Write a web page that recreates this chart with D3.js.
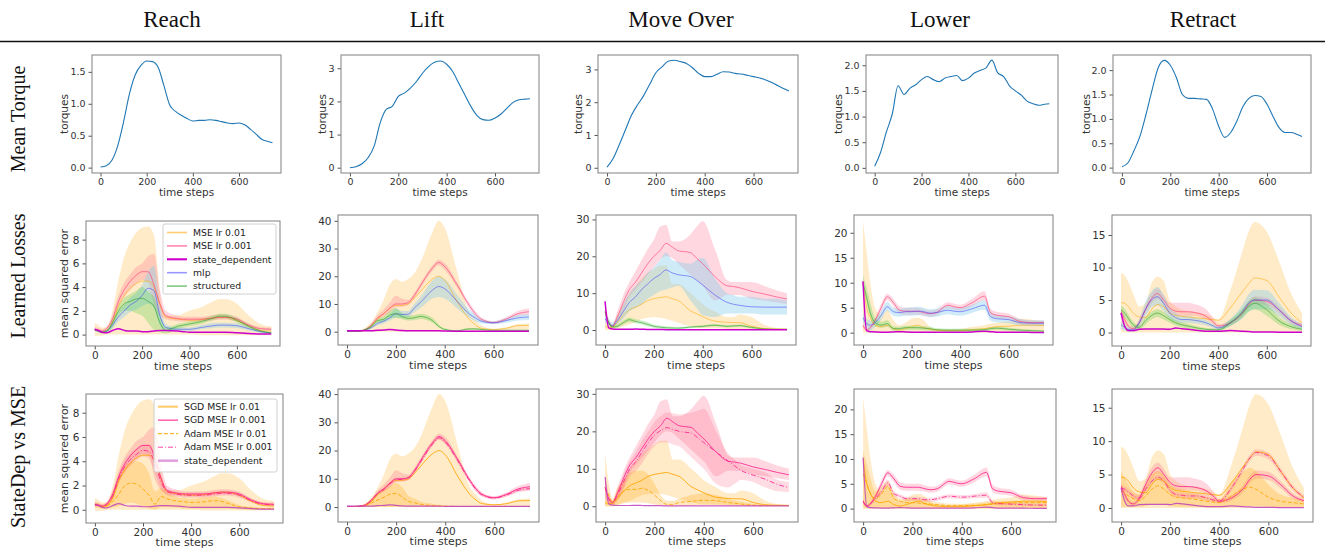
<!DOCTYPE html>
<html>
<head>
<meta charset="utf-8">
<script src="https://cdn.jsdelivr.net/npm/d3@7"></script>
<style>
body { margin: 0; background: #fff; }
svg { display: block; }
</style>
</head>
<body>
<svg id="chart" width="1325" height="548"></svg>
<script>
// column / row headings
var task_titles = ["Reach", "Lift", "Move Over", "Lower", "Retract"];
var task_keys = ["reach", "lift", "move", "lower", "retract"];
var row_titles = ["Mean Torque", "Learned Losses", "StateDep vs MSE"];
var x_ticks = [0, 200, 400, 600];

// time steps for the torque row and the loss rows
var torque_steps = [0,25,50,75,100,125,150,175,200,225,250,275,300,325,350,375,400,425,450,475,500,525,550,575,600,625,650,675,700,725,745];
var loss_steps = [0,15,30,50,75,100,125,150,175,200,225,250,275,300,350,375,400,450,500,525,550,600,650,700,745];

// mean torque
var torque_reach = [0.01,0.03,0.12,0.35,0.72,1.15,1.45,1.6,1.67,1.66,1.57,1.28,0.98,0.88,0.82,0.77,0.73,0.74,0.74,0.75,0.74,0.72,0.7,0.69,0.7,0.67,0.6,0.52,0.44,0.41,0.39];
var torque_lift = [0.0,0.03,0.12,0.3,0.65,1.35,1.76,1.85,2.15,2.25,2.4,2.6,2.85,3.05,3.18,3.22,3.12,2.9,2.55,2.2,1.85,1.58,1.45,1.43,1.5,1.62,1.8,1.97,2.05,2.07,2.08];
var torque_move = [0.02,0.28,0.7,1.15,1.6,1.92,2.2,2.55,2.9,3.08,3.25,3.28,3.24,3.18,3.05,2.88,2.78,2.78,2.85,2.93,2.92,2.88,2.86,2.82,2.78,2.74,2.68,2.6,2.5,2.41,2.34];
var torque_lower = [0.03,0.3,0.7,1.05,1.6,1.43,1.55,1.62,1.72,1.78,1.72,1.68,1.75,1.78,1.8,1.7,1.75,1.85,1.9,1.95,2.1,1.85,1.78,1.6,1.5,1.42,1.3,1.25,1.22,1.24,1.25];
var torque_retract = [0.02,0.1,0.35,0.65,1.1,1.6,2.05,2.2,2.1,1.85,1.5,1.42,1.42,1.41,1.4,1.2,0.85,0.62,0.72,0.95,1.25,1.42,1.48,1.46,1.3,1.05,0.82,0.72,0.72,0.68,0.64];

// ---- Reach losses
var reach_mse01 = [0.4,0.35,0.25,0.35,1.0,2.4,3.3,3.9,4.3,4.5,4.5,4.0,2.5,1.5,1.3,1.25,1.2,1.25,1.4,1.45,1.45,1.2,0.7,0.35,0.3];
var reach_mse01_lo = [-0.1,-0.1,-0.1,0,0,0,0,0,0,0,0,0,0,0,0,0,0,-0.05,-0.05,-0.05,-0.05,-0.05,-0.05,-0.05,0];
var reach_mse01_hi = [1.0,0.8,0.6,0.6,2.0,4.6,6.6,7.8,8.6,9.0,9.1,8.4,3.5,1.6,1.6,1.8,2.0,2.3,2.8,3.0,3.0,2.6,1.6,0.9,0.7];
var reach_mse001 = [0.45,0.4,0.3,0.5,1.3,2.8,3.8,4.5,5.0,5.3,5.3,4.2,2.6,1.6,1.35,1.3,1.3,1.3,1.4,1.45,1.45,1.3,0.8,0.5,0.45];
var reach_mse001_lo = [0.3,0.25,0.2,0.35,1.0,2.4,3.2,3.8,4.3,4.6,4.4,2.5,1.6,1.3,1.15,1.1,1.1,1.1,1.2,1.25,1.25,1.1,0.65,0.4,0.35];
var reach_mse001_hi = [0.65,0.55,0.45,0.7,1.7,3.3,4.4,5.1,5.7,6.0,6.6,6.8,3.8,2.0,1.6,1.5,1.5,1.5,1.65,1.7,1.7,1.5,0.95,0.65,0.6];
var reach_mlp = [0.4,0.3,0.2,0.3,0.8,1.5,2.0,2.5,2.8,3.3,3.9,3.7,1.6,0.6,0.45,0.45,0.45,0.6,0.75,0.8,0.8,0.75,0.5,0.25,0.15];
var reach_mlp_lo = [0.3,0.2,0.1,0.2,0.5,1.1,1.5,1.9,2.1,2.4,2.6,2.2,0.8,0.3,0.3,0.3,0.3,0.45,0.55,0.6,0.6,0.55,0.35,0.15,0.1];
var reach_mlp_hi = [0.5,0.4,0.3,0.4,1.1,1.9,2.5,3.1,3.5,4.2,5.3,5.8,2.6,0.9,0.6,0.6,0.6,0.8,1.0,1.0,1.0,0.95,0.7,0.35,0.2];
var reach_struct = [0.4,0.3,0.2,0.3,1.0,2.0,2.6,2.8,3.0,3.05,2.8,2.4,1.0,0.35,0.7,0.8,0.9,1.1,1.4,1.55,1.55,1.2,0.7,0.3,0.15];
var reach_struct_lo = [0.3,0.2,0.1,0.2,0.6,1.6,2.0,2.0,1.8,1.6,1.0,0.4,0.2,0.1,0.5,0.6,0.7,0.9,1.2,1.35,1.35,1.0,0.55,0.2,0.1];
var reach_struct_hi = [0.5,0.4,0.3,0.4,1.3,2.4,3.1,3.4,3.7,4.0,3.6,3.2,1.6,0.6,0.9,1.0,1.1,1.3,1.6,1.75,1.75,1.4,0.85,0.4,0.2];
var reach_sd = [0.45,0.35,0.2,0.15,0.35,0.5,0.35,0.3,0.3,0.25,0.25,0.3,0.35,0.35,0.3,0.25,0.2,0.2,0.2,0.2,0.2,0.15,0.1,0.05,0.05];
var reach_adam01 = [0.4,0.35,0.25,0.3,0.7,1.3,2.0,2.2,2.1,1.7,1.2,0.45,1.1,0.9,0.7,0.65,0.6,0.65,0.75,0.7,0.55,0.25,0.15,0.1,0.1];
var reach_adam01_lo = [0.2,0.15,0.1,0.1,0.2,0.3,0.5,0.6,0.5,0.3,0.1,0,0.2,0.2,0.15,0.1,0.1,0.1,0.1,0.1,0.1,0.05,0,0,0];
var reach_adam01_hi = [0.6,0.55,0.4,0.5,1.5,2.8,3.6,3.9,4.0,3.8,3.0,1.5,1.8,1.4,1.0,0.95,0.9,1.0,1.1,1.0,0.8,0.4,0.25,0.15,0.15];
var reach_adam001 = [0.4,0.35,0.3,0.45,1.2,2.6,3.6,4.2,4.6,4.9,4.8,3.8,2.3,1.5,1.25,1.2,1.2,1.2,1.3,1.35,1.35,1.2,0.75,0.45,0.4];
var reach_adam001_lo = [0.3,0.25,0.2,0.3,0.9,2.2,3.1,3.7,4.1,4.4,4.2,3.0,1.8,1.2,1.05,1.0,1.0,1.0,1.1,1.15,1.15,1.0,0.6,0.35,0.3];
var reach_adam001_hi = [0.55,0.5,0.4,0.6,1.5,3.0,4.1,4.7,5.1,5.4,5.4,4.6,2.8,1.8,1.45,1.4,1.4,1.4,1.5,1.55,1.55,1.4,0.9,0.6,0.5];

// ---- Lift losses
var lift_mse01 = [0.2,0.2,0.2,0.2,0.6,2.0,4.5,6.5,8.5,9.5,9.5,10.0,12.0,14.5,19.0,20.0,18.5,11.0,4.5,2.5,1.2,0.8,1.2,2.2,2.3];
var lift_mse01_lo = [0,0,0,0,0,0,0,0,0,0,0,0,0,0,0,0,0,0,0,0,0,0,0,0,0];
var lift_mse01_hi = [0.4,0.4,0.4,0.5,1.5,3.5,7.0,11.5,17.0,19.0,18.0,19.0,21.0,25.0,36.0,40.0,37.5,22.0,7.0,4.5,2.2,1.0,1.6,2.8,3.0];
var lift_mse001 = [0.2,0.2,0.2,0.3,0.8,2.5,5.0,6.5,8.5,10.0,10.0,10.5,13.0,16.5,23.0,25.0,23.5,17.0,9.5,6.5,4.5,3.3,4.5,6.5,7.2];
var lift_mse001_lo = [0.1,0.1,0.1,0.2,0.6,2.0,4.2,5.5,7.0,8.8,9.0,9.5,12.0,15.5,22.0,24.0,22.3,16.0,8.5,5.5,3.8,2.8,3.8,5.5,6.0];
var lift_mse001_hi = [0.3,0.3,0.3,0.4,1.0,3.0,6.0,8.0,10.5,13.0,12.0,11.5,14.0,17.5,24.0,26.0,24.8,18.0,10.5,7.5,5.2,3.8,5.2,7.5,8.5];
var lift_mlp = [0.2,0.2,0.2,0.2,0.6,1.5,3.0,3.8,5.0,6.5,6.2,6.3,8.5,10.5,15.0,16.3,15.5,11.0,6.5,5.0,3.8,3.2,4.0,5.0,5.3];
var lift_mlp_lo = [0.1,0.1,0.1,0.1,0.4,1.1,2.3,3.0,4.0,5.0,5.0,5.2,7.0,8.5,12.0,12.5,12.0,8.5,5.0,3.8,3.0,2.7,3.2,4.0,4.2];
var lift_mlp_hi = [0.3,0.3,0.3,0.3,0.8,1.9,3.7,4.6,6.2,8.5,7.5,7.5,10.0,12.5,18.5,20.0,19.0,13.5,8.0,6.2,4.6,3.8,4.8,6.0,6.4];
var lift_struct = [0.2,0.2,0.2,0.2,0.8,2.0,4.0,4.5,6.0,6.5,5.5,4.8,5.0,5.5,4.0,2.0,0.8,0.3,1.0,1.0,0.8,0.5,0.5,0.5,0.5];
var lift_struct_lo = [0.1,0.1,0.1,0.1,0.5,1.5,3.3,3.7,4.8,5.0,4.5,4.0,4.2,4.6,3.2,1.5,0.5,0.1,0.7,0.7,0.5,0.3,0.3,0.3,0.3];
var lift_struct_hi = [0.3,0.3,0.3,0.3,1.1,2.5,4.7,5.5,7.5,8.5,6.8,5.8,6.0,6.5,5.0,2.6,1.2,0.5,1.3,1.3,1.1,0.7,0.7,0.7,0.7];
var lift_sd = [0.3,0.3,0.3,0.3,0.3,0.3,0.5,0.6,0.8,0.6,0.4,0.3,0.3,0.3,0.3,0.3,0.25,0.2,0.2,0.2,0.2,0.2,0.2,0.2,0.2];
var lift_adam01 = [0.2,0.2,0.2,0.2,0.5,1.5,2.5,3.5,4.5,4.8,3.5,2.0,1.5,1.0,0.5,0.4,0.3,0.2,0.2,0.2,0.2,0.2,0.2,0.2,0.2];
var lift_adam01_lo = [0,0,0,0,0,0,0,0,0,0,0,0,0,0,0,0,0,0,0,0,0,0,0,0,0];
var lift_adam01_hi = [0.3,0.3,0.3,0.4,1.0,3.0,4.5,6.0,7.5,8.5,7.0,4.0,3.0,2.0,1.2,0.8,0.5,0.4,0.3,0.3,0.3,0.3,0.3,0.3,0.3];
var lift_adam001 = [0.2,0.2,0.2,0.3,0.8,2.4,4.8,6.2,8.2,9.7,9.8,10.3,12.7,16.0,22.5,24.5,23.0,16.5,9.2,6.3,4.3,3.2,4.3,6.0,6.5];
var lift_adam001_lo = [0.1,0.1,0.1,0.2,0.6,2.0,4.2,5.6,7.5,9.0,9.2,9.7,12.0,15.3,21.8,23.8,22.3,15.8,8.5,5.7,3.7,2.7,3.7,5.3,5.8];
var lift_adam001_hi = [0.3,0.3,0.3,0.4,1.0,2.8,5.4,6.8,8.9,10.4,10.4,10.9,13.4,16.7,23.2,25.2,23.7,17.2,9.9,6.9,4.9,3.7,4.9,6.7,7.2];

// ---- Move Over losses
var move_mse01 = [1.0,0.7,0.8,2.0,4.0,5.5,6.2,7.0,8.0,8.5,8.8,9.0,8.5,8.0,5.2,4.4,3.6,2.4,2.1,2.0,2.0,1.0,0.4,0.25,0.2];
var move_mse01_lo = [0,0,0,0.5,1.0,1.5,2.2,3.0,3.3,3.5,3.3,3.0,2.5,2.0,1.0,0.7,0.5,0.5,0.3,0.2,0.2,0.1,0,0,0];
var move_mse01_hi = [2.0,1.5,1.5,4.0,7.0,10.0,12.0,14.0,15.5,16.5,17.5,17.5,12.5,12.5,10.0,8.5,7.0,5.0,3.5,3.5,4.2,3.5,1.5,0.6,0.4];
var move_mse001 = [5.0,2.0,1.0,3.5,7.5,11.0,13.0,15.5,18.0,20.0,21.5,23.5,22.5,21.5,21.0,19.5,18.0,14.5,12.0,11.8,11.5,10.5,9.8,9.0,8.4];
var move_mse001_lo = [2.0,1.0,0.5,2.0,5.0,9.0,11.0,13.0,15.0,17.0,19.0,20.0,19.5,18.0,15.0,13.5,12.0,8.0,9.5,9.5,9.5,8.5,8.0,7.5,7.0];
var move_mse001_hi = [7.5,3.0,1.5,5.0,9.5,13.0,16.0,19.0,22.0,24.5,28.0,28.5,24.0,24.0,26.0,28.0,29.5,22.0,13.5,13.0,13.0,13.0,12.0,10.8,10.0];
var move_mlp = [3.0,2.0,1.2,2.5,5.0,7.5,9.0,11.0,12.5,14.0,15.0,16.3,15.5,15.0,14.5,13.5,12.2,9.5,7.5,7.0,6.7,6.3,6.2,6.2,6.2];
var move_mlp_lo = [2.0,1.3,0.8,1.5,3.0,5.0,6.0,7.0,8.5,9.5,10.5,11.0,11.5,12.0,8.0,6.0,4.0,3.5,4.5,4.5,4.5,4.5,4.2,4.2,4.2];
var move_mlp_hi = [4.0,3.0,2.0,3.5,7.0,10.0,12.0,13.5,15.5,17.0,19.0,21.0,19.0,18.5,18.0,19.0,19.5,14.0,10.0,9.5,9.0,9.0,8.5,8.5,8.0];
var move_struct = [5.0,2.0,0.8,1.0,2.0,2.8,2.3,2.0,1.5,1.0,0.8,0.6,0.55,0.5,0.8,0.9,1.0,1.3,1.0,1.1,1.2,0.7,0.3,0.2,0.2];
var move_struct_lo = [4.0,1.5,0.5,0.6,1.5,2.2,1.8,1.5,1.0,0.6,0.4,0.3,0.25,0.2,0.5,0.6,0.7,1.0,0.7,0.8,0.9,0.4,0.15,0.1,0.1];
var move_struct_hi = [6.0,2.6,1.2,1.5,2.6,3.4,2.9,2.6,2.1,1.5,1.2,1.0,0.9,0.8,1.1,1.2,1.3,1.6,1.3,1.4,1.5,1.0,0.5,0.3,0.3];
var move_sd = [7.8,0.6,0.3,0.2,0.2,0.2,0.25,0.2,0.15,0.15,0.15,0.1,0.1,0.1,0.1,0.1,0.1,0.1,0.1,0.1,0.1,0.1,0.1,0.1,0.1];
var move_adam01 = [5.0,3.0,1.0,2.5,4.0,4.5,4.5,4.8,4.2,3.0,1.5,0.5,0.5,1.0,1.3,1.5,1.6,1.5,1.0,0.8,0.6,0.3,0.2,0.2,0.2];
var move_adam01_lo = [0,0,0,0.3,0.8,1.0,1.0,1.0,0.8,0.5,0.2,0,0,0.1,0.2,0.3,0.3,0.3,0.2,0.1,0.1,0,0,0,0];
var move_adam01_hi = [14.0,6.0,2.0,5.0,7.0,9.0,9.5,9.5,8.5,6.0,3.0,1.5,1.5,2.0,3.0,3.3,3.5,3.0,2.0,1.5,1.2,0.6,0.4,0.4,0.4];
var move_adam001 = [5.0,2.0,1.0,3.0,6.5,10.0,12.0,14.5,17.0,19.0,20.2,21.0,20.5,20.0,19.5,18.3,17.0,14.5,12.0,10.8,9.6,8.3,7.2,5.8,5.0];
var move_adam001_lo = [2.0,1.0,0.5,1.5,4.5,8.0,9.5,11.5,14.0,16.0,17.0,17.0,16.5,16.0,13.0,11.5,10.0,6.0,5.0,6.0,7.0,6.5,5.0,4.0,3.8];
var move_adam001_hi = [8.0,3.0,1.5,4.5,8.5,12.0,14.5,17.5,20.0,22.5,24.0,25.0,24.8,24.5,25.0,25.5,26.0,20.0,14.0,12.5,11.0,10.0,9.0,7.0,6.5];

// ---- Lower losses
var lower_mse01 = [10.0,5.0,3.0,1.5,1.2,1.5,0.8,0.5,0.8,1.2,1.5,1.0,0.7,0.5,0.4,0.4,0.4,0.6,0.8,1.0,1.2,1.3,1.5,1.5,1.4];
var lower_mse01_lo = [0,0,0,0,0,0,0,0,0,0,0,0,0,0,0,0,0,0,0,0,0,0,0,0,0];
var lower_mse01_hi = [22.5,16.0,10.0,5.0,3.5,4.5,2.5,1.5,2.0,2.8,3.0,2.5,1.2,0.8,0.7,0.75,0.8,1.2,1.5,1.8,2.0,2.3,2.8,2.6,2.3];
var lower_mse001 = [1.5,0.5,1.0,2.5,5.0,7.2,6.0,4.5,4.3,4.3,4.3,4.0,3.8,4.0,5.5,5.2,5.0,6.0,7.3,4.0,3.5,3.2,2.2,2.0,2.0];
var lower_mse001_lo = [1.0,0.3,0.6,2.0,4.2,6.5,5.3,3.8,3.6,3.6,3.6,3.4,3.2,3.4,4.9,4.6,4.4,5.3,6.5,3.3,2.9,2.6,1.7,1.6,1.6];
var lower_mse001_hi = [2.0,0.8,1.4,3.0,5.8,7.8,6.8,5.3,5.0,5.0,5.0,4.7,4.4,4.6,6.1,5.8,5.6,6.8,8.3,4.8,4.2,3.8,2.7,2.4,2.4];
var lower_mlp = [3.0,1.8,1.5,2.0,3.5,5.2,4.2,4.0,4.2,4.2,4.3,4.2,3.9,4.0,4.5,4.3,4.2,4.8,5.5,3.2,2.8,2.6,2.0,1.9,1.9];
var lower_mlp_lo = [2.0,0.8,0.5,1.2,2.6,4.4,3.4,3.2,3.4,3.4,3.5,3.4,3.1,3.2,3.7,3.5,3.4,4.0,4.6,2.4,2.1,1.9,1.4,1.3,1.3];
var lower_mlp_hi = [4.2,2.8,2.4,2.8,4.4,6.2,5.0,4.8,5.0,5.1,5.2,5.0,4.7,4.8,5.3,5.1,5.0,5.6,6.5,4.1,3.5,3.3,2.7,2.5,2.5];
var lower_struct = [10.0,7.0,4.0,2.0,1.5,1.8,0.8,0.8,1.0,1.0,1.0,0.9,0.8,0.6,0.5,0.5,0.5,0.5,0.6,0.8,0.9,0.7,0.5,0.4,0.3];
var lower_struct_lo = [9.0,6.0,3.0,1.3,1.0,1.2,0.4,0.4,0.6,0.6,0.6,0.5,0.4,0.3,0.2,0.2,0.2,0.2,0.3,0.5,0.6,0.4,0.25,0.2,0.15];
var lower_struct_hi = [11.5,9.0,6.0,3.0,2.2,2.5,1.3,1.2,1.4,1.4,1.4,1.3,1.2,0.9,0.8,0.8,0.8,0.8,0.9,1.1,1.2,1.0,0.75,0.6,0.5];
var lower_sd = [10.3,0.4,0.2,0.15,0.1,0.1,0.15,0.2,0.15,0.1,0.1,0.1,0.1,0.1,0.1,0.1,0.1,0.15,0.3,0.2,0.1,0.1,0.1,0.05,0.05];
var lower_adam01 = [7.0,5.0,3.0,2.0,3.0,4.5,2.0,1.5,1.2,1.2,1.1,1.0,0.9,0.8,0.6,0.6,0.6,0.6,0.8,0.9,1.0,1.1,1.2,1.2,1.2];
var lower_adam01_lo = [0,0,0,0,0,0,0,0,0,0,0,0,0,0,0,0,0,0,0,0,0,0,0,0,0];
var lower_adam01_hi = [11.5,9.0,6.0,3.5,4.5,5.5,3.0,2.0,2.0,2.0,1.9,1.8,1.5,1.3,1.0,1.0,1.0,1.0,1.3,1.4,1.5,1.6,1.6,1.6,1.6];
var lower_adam001 = [1.5,0.5,1.0,2.0,3.5,5.2,3.0,2.5,2.0,2.0,2.0,1.8,1.8,2.0,2.5,2.4,2.3,2.5,2.7,1.2,1.0,0.9,0.8,0.7,0.7];
var lower_adam001_lo = [1.1,0.3,0.7,1.6,3.0,4.6,2.5,2.1,1.6,1.6,1.6,1.4,1.4,1.6,2.1,2.0,1.9,2.1,2.2,0.9,0.7,0.6,0.5,0.5,0.5];
var lower_adam001_hi = [1.9,0.8,1.3,2.4,4.0,5.8,3.5,2.9,2.4,2.4,2.4,2.2,2.2,2.4,2.9,2.8,2.7,2.9,3.3,1.6,1.3,1.2,1.1,1.0,1.0];

// ---- Retract losses
var retract_mse01 = [4.6,4.5,4.0,3.0,2.4,2.3,3.5,4.3,4.0,3.0,2.6,2.5,2.4,2.3,2.1,2.0,1.9,3.8,6.3,7.5,8.4,8.0,5.5,3.0,1.5];
var retract_mse01_lo = [0,0,0,0,0,0,0,0,0,0,0,0,0,0,0,0,0,0,0,0,0,0,0,0,0];
var retract_mse01_hi = [9.2,8.8,7.8,6.0,4.0,4.5,7.5,8.6,8.0,5.0,4.0,3.5,3.3,3.2,2.8,2.4,2.0,6.5,12.5,15.5,17.0,15.5,11.0,6.0,3.0];
var retract_mse001 = [3.2,2.0,1.0,0.6,1.5,3.5,5.2,6.0,5.0,3.8,3.3,3.2,3.2,3.1,2.5,1.8,1.0,1.5,3.0,4.3,5.0,4.8,3.5,1.8,1.1];
var retract_mse001_lo = [2.6,1.5,0.6,0.3,1.0,2.8,4.4,5.2,4.3,3.1,2.7,2.6,2.6,2.6,2.0,1.4,0.7,1.1,2.5,3.7,4.4,4.2,3.0,1.4,0.8];
var retract_mse001_hi = [3.8,2.5,1.4,0.9,2.0,4.2,6.0,6.8,5.8,4.6,4.6,4.6,4.6,4.4,3.6,2.5,1.3,1.9,3.5,4.9,5.6,5.4,4.0,2.2,1.4];
var retract_mlp = [1.2,0.8,0.5,0.4,1.5,3.5,5.0,5.5,4.5,3.0,2.3,2.0,2.0,1.9,1.5,1.1,0.7,1.5,3.2,4.5,5.0,5.0,3.5,1.8,0.9];
var retract_mlp_lo = [0.6,0.3,0.1,0.1,0.9,2.5,3.8,4.2,3.3,2.2,1.7,1.5,1.5,1.4,1.1,0.8,0.4,1.0,2.2,3.2,3.6,3.6,2.5,1.2,0.5];
var retract_mlp_hi = [1.8,1.3,0.9,0.7,2.1,4.6,6.3,7.0,5.8,3.9,3.0,2.6,2.6,2.4,1.9,1.4,1.0,2.1,4.3,5.9,6.6,6.5,4.6,2.4,1.3];
var retract_struct = [3.5,3.0,2.2,1.2,0.8,1.8,2.6,3.0,2.6,2.0,1.5,1.2,1.0,0.8,0.5,0.45,0.4,1.5,3.0,4.0,4.5,3.5,1.8,0.9,0.5];
var retract_struct_lo = [2.8,2.3,1.6,0.7,0.4,1.2,2.0,2.4,2.0,1.5,1.1,0.8,0.6,0.5,0.3,0.25,0.2,1.0,2.3,3.2,3.6,2.6,1.2,0.5,0.25];
var retract_struct_hi = [4.2,3.7,2.8,1.7,1.2,2.4,3.2,3.6,3.2,2.5,1.9,1.6,1.4,1.1,0.7,0.65,0.6,2.0,3.7,4.8,5.4,4.4,2.4,1.3,0.75];
var retract_sd = [3.0,1.0,0.3,0.3,0.5,0.55,0.55,0.55,0.55,0.5,0.7,0.6,0.5,0.4,0.2,0.2,0.2,0.3,0.2,0.15,0.1,0.1,0.05,0.05,0.05];
var retract_adam01 = [2.5,2.2,1.8,1.4,1.1,1.8,2.8,3.3,2.8,2.0,1.6,1.5,1.4,1.3,1.0,0.9,0.8,1.8,2.9,3.1,2.8,1.6,1.0,0.8,0.6];
var retract_adam01_lo = [0.2,0.2,0.2,0.2,0.2,0.3,0.5,0.6,0.5,0.3,0.2,0.2,0.2,0.2,0.1,0.1,0.1,0.2,0.3,0.3,0.3,0.2,0.1,0.1,0.1];
var retract_adam01_hi = [5.5,4.5,3.5,2.5,2.0,3.5,5.0,5.5,5.0,3.5,3.0,2.8,2.5,2.2,1.6,1.4,1.3,3.8,5.5,6.0,5.5,3.5,2.0,1.5,1.2];
var retract_adam001 = [3.0,2.8,2.4,1.8,1.5,2.8,4.0,4.6,4.0,2.6,2.0,1.9,1.8,1.8,1.5,1.2,1.0,3.0,6.0,7.5,8.3,7.8,5.5,3.0,1.6];
var retract_adam001_lo = [2.6,2.4,2.0,1.4,1.1,2.4,3.6,4.2,3.6,2.2,1.6,1.5,1.4,1.4,1.1,0.9,0.7,2.6,5.5,7.0,7.8,7.3,5.0,2.6,1.3];
var retract_adam001_hi = [3.4,3.2,2.8,2.2,1.9,3.2,4.4,5.0,4.4,3.0,2.4,2.3,2.2,2.2,1.9,1.5,1.3,3.4,6.5,8.0,8.8,8.3,6.0,3.4,1.9];

// legend labels
var learned_labels = ["MSE lr 0.01", "MSE lr 0.001", "state_dependent", "mlp", "structured"];
var compare_labels = ["SGD MSE lr 0.01", "SGD MSE lr 0.001", "Adam MSE lr 0.01", "Adam MSE lr 0.001", "state_dependent"];

// ---------------- layout (pixel frames of each panel) ----------------
var x_domain = [-37, 782];
var torque_frames = [
	{x0: 92, x1: 281, y0: 55, y1: 173, yDomain: [-0.084, 1.764], yTicks: [0, 0.5, 1, 1.5], fmt: ".1f", ylabOff: 24},
	{x0: 341, x1: 539, y0: 55, y1: 173, yDomain: [-0.16, 3.40], yTicks: [0, 1, 2, 3], fmt: "d", ylabOff: 15},
	{x0: 598, x1: 798, y0: 55, y1: 173, yDomain: [-0.16, 3.44], yTicks: [0, 1, 2, 3], fmt: "d", ylabOff: 16},
	{x0: 866, x1: 1058, y0: 55, y1: 173, yDomain: [-0.1, 2.2], yTicks: [0, 0.5, 1, 1.5, 2], fmt: ".1f", ylabOff: 24},
	{x0: 1113, x1: 1311, y0: 55, y1: 173, yDomain: [-0.11, 2.31], yTicks: [0, 0.5, 1, 1.5, 2], fmt: ".1f", ylabOff: 23}
];
var learned_frames = [
	{x0: 86, x1: 280, y0: 221, y1: 346, yDomain: [-0.96, 9.57], yTicks: [0, 2, 4, 6, 8]},
	{x0: 338, x1: 538, y0: 215, y1: 345, yDomain: [-4.8, 42.1], yTicks: [0, 10, 20, 30, 40]},
	{x0: 596, x1: 796, y0: 215, y1: 345, yDomain: [-4.07, 31.2], yTicks: [0, 10, 20, 30]},
	{x0: 854, x1: 1053, y0: 215, y1: 345, yDomain: [-2.47, 23.56], yTicks: [0, 5, 10, 15, 20]},
	{x0: 1112, x1: 1311, y0: 215, y1: 346, yDomain: [-2.07, 18.08], yTicks: [0, 5, 10, 15]}
];
var compare_frames = [
	{x0: 86, x1: 283, y0: 394, y1: 523, yDomain: [-1.09, 9.54], yTicks: [0, 2, 4, 6, 8]},
	{x0: 338, x1: 539, y0: 389, y1: 522, yDomain: [-5.3, 41.8], yTicks: [0, 10, 20, 30, 40]},
	{x0: 596, x1: 798, y0: 389, y1: 522, yDomain: [-4.2, 31.3], yTicks: [0, 10, 20, 30]},
	{x0: 854, x1: 1056, y0: 389, y1: 522, yDomain: [-2.7, 24.1], yTicks: [0, 5, 10, 15, 20]},
	{x0: 1112, x1: 1313, y0: 389, y1: 522, yDomain: [-2.1, 17.8], yTicks: [0, 5, 10, 15]}
];
var title_x = [172, 427, 681, 940, 1203];
var row_title_y = [119, 276, 457];

// styles
var c_orange = "#ffa500", c_pink = "#ff3377", c_deeppink = "#ff1a8c";
var band_orange = {fill: c_orange, op: 0.22};
var band_pink = {fill: "#ff6f91", op: 0.28};
var band_blue = {fill: "#87ceeb", op: 0.4};
var band_green = {fill: "#32cd32", op: 0.25};
var tick_font = "DejaVu Sans, sans-serif";

function get(task, name) {
	var arr = window[task + "_" + name];
	if (!arr || arr.length != loss_steps.length) throw new Error("bad data " + task + "_" + name);
	return arr;
}

var svg = d3.select("#chart");
var clip_count = 0;

// ---- headings
svg.selectAll(".coltitle").data(task_titles).enter()
	.append("text")
	.attr("class", "coltitle")
	.attr("x", function(d, i) { return title_x[i]; })
	.attr("y", 27)
	.attr("text-anchor", "middle")
	.style("font-family", "Liberation Serif, serif")
	.style("font-size", "23px")
	.attr("fill", "#111")
	.text(function(d) { return d; });

svg.append("line")
	.attr("x1", 0).attr("x2", 1325)
	.attr("y1", 41.5).attr("y2", 41.5)
	.attr("stroke", "#111")
	.attr("stroke-width", 1.6);

svg.selectAll(".rowtitle").data(row_titles).enter()
	.append("text")
	.attr("class", "rowtitle")
	.attr("transform", function(d, i) { return "translate(25," + row_title_y[i] + ") rotate(-90)"; })
	.attr("text-anchor", "middle")
	.style("font-family", "Liberation Serif, serif")
	.style("font-size", "20px")
	.attr("fill", "#111")
	.text(function(d) { return d; });

// ---- one panel
function drawPanel(f, steps, bands, lines, opts) {
	var x = d3.scaleLinear().domain(x_domain).range([f.x0, f.x1]);
	var y = d3.scaleLinear().domain(f.yDomain).range([f.y1, f.y0]);
	var clip_id = "clip" + (clip_count++);
	svg.append("clipPath").attr("id", clip_id)
		.append("rect")
		.attr("x", f.x0).attr("y", f.y0)
		.attr("width", f.x1 - f.x0).attr("height", f.y1 - f.y0);

	var g = svg.append("g");
	var plot = g.append("g").attr("clip-path", "url(#" + clip_id + ")");
	var idx = d3.range(steps.length);

	bands.forEach(function(b) {
		var area = d3.area()
			.x(function(i) { return x(steps[i]); })
			.y0(function(i) { return y(b.lo[i]); })
			.y1(function(i) { return y(b.hi[i]); })
			.curve(d3.curveMonotoneX);
		plot.append("path").datum(idx)
			.attr("d", area)
			.attr("fill", b.style.fill)
			.attr("fill-opacity", b.style.op);
	});

	lines.forEach(function(l) {
		var line = d3.line()
			.x(function(i) { return x(steps[i]); })
			.y(function(i) { return y(l.values[i]); })
			.curve(d3.curveMonotoneX);
		plot.append("path").datum(idx)
			.attr("d", line)
			.attr("fill", "none")
			.attr("stroke", l.color)
			.attr("stroke-opacity", l.op)
			.attr("stroke-width", l.width)
			.attr("stroke-dasharray", l.dash || null);
	});

	// axes
	var xa = g.append("g").attr("transform", "translate(0," + f.y1 + ")")
		.call(d3.axisBottom(x).tickValues(x_ticks).tickSize(3.5).tickPadding(2));
	var fmt = f.fmt ? d3.format(f.fmt) : d3.format("d");
	var ya = g.append("g").attr("transform", "translate(" + f.x0 + ",0)")
		.call(d3.axisLeft(y).tickValues(f.yTicks).tickFormat(fmt).tickSize(3.5).tickPadding(3));
	[xa, ya].forEach(function(a) {
		a.select(".domain").remove();
		a.selectAll("line").attr("stroke", "#555");
		a.selectAll("text")
			.style("font-family", tick_font)
			.style("font-size", opts.tickSize + "px")
			.attr("fill", "#333");
	});

	g.append("rect")
		.attr("x", f.x0).attr("y", f.y0)
		.attr("width", f.x1 - f.x0).attr("height", f.y1 - f.y0)
		.attr("fill", "none")
		.attr("stroke", "#808080")
		.attr("stroke-width", 1);

	g.append("text")
		.attr("x", (f.x0 + f.x1) / 2)
		.attr("y", f.y1 + opts.xlabOff)
		.attr("text-anchor", "middle")
		.style("font-family", tick_font)
		.style("font-size", opts.labelSize + "px")
		.attr("fill", "#333")
		.text("time steps");

	if (opts.ylabel) {
		g.append("text")
			.attr("transform", "translate(" + (f.x0 - opts.ylabOff) + "," + ((f.y0 + f.y1) / 2) + ") rotate(-90)")
			.attr("text-anchor", "middle")
			.style("font-family", tick_font)
			.style("font-size", opts.labelSize + "px")
			.attr("fill", "#333")
			.text(opts.ylabel);
	}
}

function drawLegend(box, labels, styles) {
	var g = svg.append("g");
	g.append("rect")
		.attr("x", box.x).attr("y", box.y)
		.attr("width", box.w).attr("height", box.h)
		.attr("rx", 2)
		.attr("fill", "#fff").attr("fill-opacity", 0.85)
		.attr("stroke", "#d0d0d0");
	labels.forEach(function(lab, i) {
		var yy = box.y + box.first + i * box.step;
		var s = styles[i];
		g.append("line")
			.attr("x1", box.x + 4).attr("x2", box.x + 24)
			.attr("y1", yy).attr("y2", yy)
			.attr("stroke", s.color)
			.attr("stroke-opacity", s.op)
			.attr("stroke-width", s.lw || s.width)
			.attr("stroke-dasharray", s.dash || null);
		g.append("text")
			.attr("x", box.x + box.textOff).attr("y", yy)
			.attr("dy", "0.35em")
			.style("font-family", tick_font)
			.style("font-size", "9.3px")
			.attr("fill", "#222")
			.text(lab);
	});
}

// ---- row 1: mean torque
var torques = [torque_reach, torque_lift, torque_move, torque_lower, torque_retract];
torques.forEach(function(t, i) {
	drawPanel(torque_frames[i], torque_steps, [],
		[{values: t, color: "#1f77b4", op: 1, width: 1.1}],
		{tickSize: 9.5, labelSize: 10.5, xlabOff: 22.5, ylabel: "torques", ylabOff: torque_frames[i].ylabOff});
});

// ---- row 2: learned losses
var st_mse01 = {color: c_orange, op: 0.55, width: 1};
var st_mse001 = {color: c_pink, op: 0.6, width: 1};
var st_sd = {color: "#cc00cc", op: 1, width: 1.5};
var st_mlp = {color: "#3333ff", op: 0.5, width: 1};
var st_struct = {color: "#2ca02c", op: 0.6, width: 1};

task_keys.forEach(function(k, i) {
	var bands = [
		{lo: get(k, "mse01_lo"), hi: get(k, "mse01_hi"), style: band_orange},
		{lo: get(k, "mse001_lo"), hi: get(k, "mse001_hi"), style: band_pink},
		{lo: get(k, "mlp_lo"), hi: get(k, "mlp_hi"), style: band_blue},
		{lo: get(k, "struct_lo"), hi: get(k, "struct_hi"), style: band_green}
	];
	var lines = [
		Object.assign({values: get(k, "mse01")}, st_mse01),
		Object.assign({values: get(k, "mse001")}, st_mse001),
		Object.assign({values: get(k, "mlp")}, st_mlp),
		Object.assign({values: get(k, "struct")}, st_struct),
		Object.assign({values: get(k, "sd")}, st_sd)
	];
	drawPanel(learned_frames[i], loss_steps, bands, lines,
		{tickSize: 10.5, labelSize: 11, xlabOff: 24, ylabel: i == 0 ? "mean squared error" : null, ylabOff: 18});
});
drawLegend({x: 163, y: 224, w: 113, h: 70, first: 8.5, step: 13.4, textOff: 30},
	learned_labels, [st_mse01, st_mse001, st_sd, st_mlp, st_struct].map(function(s) { return Object.assign({lw: s.width + 0.6}, s); }));

// ---- row 3: state dependent vs MSE
var st_sgd01 = {color: c_orange, op: 0.85, width: 1};
var st_sgd001 = {color: c_deeppink, op: 0.8, width: 1};
var st_adam01 = {color: c_orange, op: 0.85, width: 1, dash: "4,2"};
var st_adam001 = {color: c_deeppink, op: 0.8, width: 1, dash: "5,2,1,2"};
var st_sd2 = {color: "#c040c0", op: 0.85, width: 1.2};

task_keys.forEach(function(k, i) {
	var bands = [
		{lo: get(k, "mse01_lo"), hi: get(k, "mse01_hi"), style: band_orange},
		{lo: get(k, "mse001_lo"), hi: get(k, "mse001_hi"), style: band_pink},
		{lo: get(k, "adam01_lo"), hi: get(k, "adam01_hi"), style: {fill: c_orange, op: 0.25}},
		{lo: get(k, "adam001_lo"), hi: get(k, "adam001_hi"), style: {fill: "#ff6f91", op: 0.25}}
	];
	var lines = [
		Object.assign({values: get(k, "mse01")}, st_sgd01),
		Object.assign({values: get(k, "mse001")}, st_sgd001),
		Object.assign({values: get(k, "adam01")}, st_adam01),
		Object.assign({values: get(k, "adam001")}, st_adam001),
		Object.assign({values: get(k, "sd")}, st_sd2)
	];
	drawPanel(compare_frames[i], loss_steps, bands, lines,
		{tickSize: 10.5, labelSize: 11, xlabOff: 23, ylabel: i == 0 ? "mean squared error" : null, ylabOff: 18});
});
drawLegend({x: 154, y: 399, w: 123, h: 73, first: 7.7, step: 13.5, textOff: 30},
	compare_labels, [
		{color: c_orange, op: 0.6, width: 2},
		{color: c_deeppink, op: 0.7, width: 1.5},
		{color: c_orange, op: 0.8, width: 1.2, dash: "4,2"},
		{color: c_deeppink, op: 0.8, width: 1, dash: "5,2,1,2"},
		{color: "#c040c0", op: 0.5, width: 2.5}
	]);
</script>
</body>
</html>
